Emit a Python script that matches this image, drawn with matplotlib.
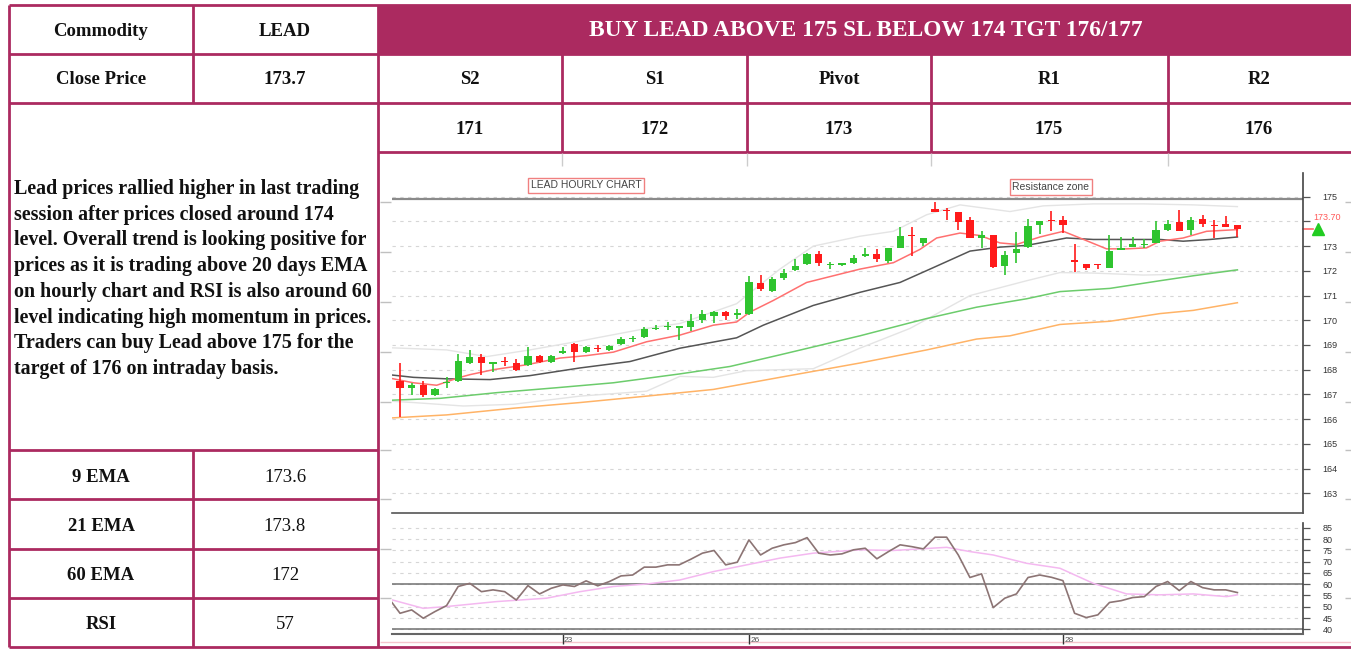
import matplotlib.pyplot as plt

W, H = 1351, 651

# ---------------- data ----------------
header = "BUY LEAD ABOVE 175 SL BELOW 174 TGT 176/177"
levels_names = ["S2", "S1", "Pivot", "R1", "R2"]
levels_values = ["171", "172", "173", "175", "176"]
close_price = 173.7
indicator_names = ["9 EMA", "21 EMA", "60 EMA", "RSI"]
indicator_values = ["173.6", "173.8", "172", "57"]
comment_lines = [
    "Lead prices rallied higher in last trading",
    "session after prices closed around 174",
    "level. Overall trend is looking positive for",
    "prices as it is trading above 20 days EMA",
    "on hourly chart and RSI is also around 60",
    "level indicating high momentum in prices.",
    "Traders can buy Lead above 175 for the",
    "target of 176 on intraday basis.",
]

opens = [167.53, 167.27, 167.37, 166.97, 167.46, 167.53, 168.27, 168.51, 168.25, 168.33,
         168.29, 168.17, 168.57, 168.31, 168.69, 169.03, 168.71, 168.85, 168.80, 169.03,
         169.25, 169.33, 169.65, 169.72, 169.70, 169.73, 170.00, 170.17, 170.33, 170.23,
         170.27, 171.51, 171.20, 171.73, 172.04, 172.27, 172.69, 172.22, 172.25, 172.33,
         172.60, 172.69, 172.40, 172.93, 173.44, 173.11, 174.49, 174.45, 174.37, 174.07,
         173.33, 173.47, 172.20, 172.71, 172.97, 173.87, 174.03, 174.07, 172.39, 172.27,
         172.24, 172.13, 172.84, 172.96, 173.05, 173.13, 173.67, 173.96, 173.67, 174.11,
         173.81, 173.91, 173.87]
highs = [168.29, 167.47, 167.53, 167.24, 167.69, 168.63, 168.80, 168.63, 168.33, 168.53,
         168.44, 168.93, 168.60, 168.60, 168.93, 169.07, 168.97, 169.00, 169.00, 169.33,
         169.37, 169.71, 169.80, 169.93, 169.77, 170.24, 170.40, 170.37, 170.37, 170.47,
         171.80, 171.83, 171.77, 172.09, 172.49, 172.73, 172.80, 172.36, 172.33, 172.63,
         172.91, 172.89, 172.93, 173.77, 173.77, 173.33, 174.80, 174.53, 174.37, 174.16,
         173.63, 173.47, 172.80, 173.56, 174.09, 174.03, 174.43, 174.20, 173.07, 172.27,
         172.29, 173.47, 173.37, 173.37, 173.29, 174.00, 174.04, 174.47, 174.16, 174.27,
         174.04, 174.20, 173.87]
lows = [166.07, 166.97, 166.89, 166.93, 167.27, 167.49, 168.23, 167.80, 167.90, 168.13,
        167.96, 168.13, 168.27, 168.27, 168.63, 168.33, 168.67, 168.71, 168.77, 169.00,
        169.11, 169.29, 169.60, 169.60, 169.20, 169.56, 169.87, 169.87, 170.00, 170.04,
        170.23, 171.20, 171.13, 171.63, 172.00, 172.23, 172.20, 172.09, 172.20, 172.27,
        172.57, 172.37, 172.33, 172.91, 172.60, 173.00, 174.40, 174.07, 173.67, 173.33,
        172.93, 172.13, 171.83, 172.33, 172.93, 173.51, 173.60, 173.53, 171.96, 172.04,
        172.09, 172.13, 172.84, 172.96, 172.93, 173.13, 173.63, 173.63, 173.47, 173.76,
        173.33, 173.77, 173.37]
closes = [167.27, 167.37, 166.97, 167.20, 167.50, 168.36, 168.53, 168.27, 168.28, 168.31,
          168.00, 168.57, 168.33, 168.57, 168.77, 168.71, 168.93, 168.82, 168.97, 169.24,
          169.28, 169.63, 169.68, 169.75, 169.72, 169.96, 170.27, 170.33, 170.16, 170.27,
          171.53, 171.27, 171.69, 171.93, 172.20, 172.69, 172.33, 172.25, 172.28, 172.53,
          172.69, 172.47, 172.93, 173.43, 173.40, 173.33, 174.40, 174.43, 173.96, 173.33,
          173.47, 172.17, 172.63, 172.89, 173.80, 174.03, 174.00, 173.87, 172.37, 172.13,
          172.22, 172.80, 172.93, 173.07, 173.07, 173.64, 173.91, 173.63, 174.07, 173.91,
          173.80, 173.77, 173.71]

ema9_x = [-1, 1.15, 3.15, 5.01, 6.02, 8.02, 10.89, 13.75, 16.05, 18.34, 21.2, 24.07,
          26.93, 28.94, 30.08, 32.09, 34.96, 39.54, 42.42, 44.71, 46.14, 48.15, 49.87,
          51.58, 53.02, 55.02, 57.03, 58.46, 60.75, 62.47, 64.19, 65.34, 67.34, 69.35, 72.0]
ema9_y = [167.67, 167.47, 167.37, 167.67, 167.8, 168.0, 168.2, 168.47, 168.57, 168.71,
          169.13, 169.4, 169.8, 169.93, 170.33, 170.8, 171.53, 172.07, 172.33, 172.87,
          173.33, 173.53, 173.43, 173.13, 173.07, 173.37, 173.6, 173.33, 172.89, 172.89,
          172.93, 173.2, 173.33, 173.6, 173.67]
ema21_x = [-1, 1.15, 4.01, 7.74, 11.17, 15.47, 19.77, 24.07, 28.94, 31.23, 35.53, 39.54,
           42.99, 45.85, 49.01, 51.58, 53.88, 57.31, 59.61, 62.47, 65.34, 67.34, 69.64, 72.0]
ema21_y = [167.8, 167.69, 167.63, 167.6, 167.76, 168.07, 168.33, 168.87, 169.29, 169.8,
           170.6, 171.13, 171.53, 172.13, 172.8, 172.96, 173.03, 173.33, 173.27, 173.27,
           173.27, 173.2, 173.27, 173.37]
ema60_x = [-1, 3.44, 8.31, 13.47, 18.34, 24.07, 28.37, 32.66, 39.54, 45.28, 49.58, 53.88,
           56.74, 61.04, 65.34, 68.2, 72.0]
ema60_y = [166.76, 166.84, 167.07, 167.27, 167.47, 167.83, 168.13, 168.6, 169.37, 170.07,
           170.53, 170.87, 171.16, 171.29, 171.6, 171.8, 172.04]
ema100_x = [-1, 4.01, 9.74, 15.47, 21.2, 26.93, 32.66, 39.54, 45.28, 49.58, 52.44, 56.74,
            61.04, 65.34, 68.2, 72.0]
ema100_y = [166.04, 166.17, 166.44, 166.67, 166.93, 167.2, 167.69, 168.27, 168.8, 169.24,
            169.37, 169.83, 169.96, 170.27, 170.4, 170.71]
bb_up_x = [-1, 4.01, 7.45, 11.17, 15.47, 21.2, 24.07, 28.94, 29.8, 32.66, 35.53, 39.54,
           42.42, 45.28, 48.15, 52.44, 55.31, 59.61, 63.91, 68.2, 72.0]
bb_up_y = [168.89, 168.8, 168.53, 168.8, 169.16, 169.67, 169.87, 170.67, 171.0, 172.07,
           173.0, 173.4, 173.6, 174.27, 174.67, 174.4, 174.63, 174.71, 174.71, 174.67, 174.6]
bb_dn_x = [-1, 1.15, 5.44, 9.74, 15.47, 21.2, 24.07, 26.93, 29.8, 35.53, 39.54, 43.85,
           49.01, 53.88, 56.74, 59.61, 63.91, 68.2, 72.0]
bb_dn_y = [166.73, 166.67, 166.53, 166.6, 166.93, 167.13, 167.73, 167.69, 167.96, 168.04,
           168.87, 169.67, 171.0, 171.6, 171.93, 171.91, 171.83, 171.87, 172.04]

rsi = [54.0, 47.1, 48.6, 44.9, 47.85, 50.5, 59.0, 60.4, 56.7, 57.5, 56.7, 53.0, 59.4, 55.7,
       58.2, 59.7, 59.0, 61.5, 59.3, 61.2, 63.7, 64.1, 67.6, 67.6, 68.6, 68.6, 71.1, 73.8,
       75.0, 68.6, 69.8, 79.7, 73.0, 76.0, 77.5, 78.5, 80.7, 73.8, 73.0, 73.5, 75.3, 76.0,
       71.3, 74.5, 77.5, 76.7, 75.7, 80.9, 80.9, 73.0, 63.0, 64.6, 49.6, 53.8, 55.7, 63.0,
       64.1, 63.1, 61.6, 47.1, 45.2, 46.4, 51.9, 52.7, 54.1, 54.5, 59.0, 61.2, 57.2, 61.2,
       58.5, 57.5, 57.5, 56.3]
rsi_sig_x = [-1, 2.0, 4.01, 8.31, 12.6, 15.47, 18.34, 21.2, 24.07, 26.93, 29.8, 32.66,
             35.53, 39.54, 42.42, 47.0, 49.01, 51.0, 53.88, 56.74, 59.61, 62.47, 65.34,
             68.2, 71.07, 72.0]
rsi_sig_y = [53.5, 49.3, 50.1, 52.3, 53.8, 56.7, 59.0, 60.1, 61.9, 65.6, 68.6, 71.6, 73.8,
             75.3, 75.0, 76.4, 74.5, 73.0, 69.3, 67.1, 60.4, 55.7, 55.3, 55.7, 54.5, 55.3]

date_pos = [14, 30, 57]
date_labels = ["23", "26", "28"]

# ---------------- style ----------------
MAG = "#AB2A60"
SERIF = "Liberation Serif"
SANS = "Liberation Sans"
UP, DN = "#2fc42f", "#ff1a1a"


def rect(x0, y0, x1, y1):
    return [x0 / W, (H - y1) / H, (x1 - x0) / W, (y1 - y0) / H]


fig = plt.figure(figsize=(W / 100, H / 100), dpi=100)
fig.patch.set_facecolor("white")

# ============ table (pixel coordinates) ============
tab = fig.add_axes([0, 0, 1, 1])
tab.set_xlim(0, W)
tab.set_ylim(H, 0)
tab.axis("off")

tab.fill_between([378, W], 5, 54, color=MAG, lw=0)
lw = 2
tab.hlines([5, 647], 9, W, color=MAG, lw=lw)
tab.hlines([54, 103], 9, W, color=MAG, lw=lw)
tab.hlines(152, 378, W, color=MAG, lw=lw)
tab.hlines([450, 499, 549, 598], 9, 378, color=MAG, lw=lw)
tab.vlines([9, 378], 5, 647, color=MAG, lw=lw)
tab.vlines(193, 5, 103, color=MAG, lw=lw)
tab.vlines(193, 450, 647, color=MAG, lw=lw)
tab.vlines([562, 747, 931, 1168], 54, 152, color=MAG, lw=lw)

# faint screenshot leftovers
tab.vlines([562, 747, 931, 1168], 153, 166, color="#cccccc", lw=1)
marks = [202, 252, 302, 352, 402, 450, 499, 549, 598]
tab.hlines(marks, 380, 391, color="#c0c0c0", lw=1)
tab.hlines(marks, 1345, W, color="#c0c0c0", lw=1)
tab.hlines(642, 380, W, color="#f6c4cc", lw=1)

cell = dict(family=SERIF, fontsize=13.5, ha="center", va="center", color="#111111")
tab.text(101, 31, "Commodity", weight="bold", **cell)
tab.text(285, 31, "LEAD", weight="bold", **cell)
tab.text(101, 80, "Close Price", weight="bold", **cell)
tab.text(285, 80, f"{close_price}", weight="bold", **cell)
tab.text(866, 31, header, family=SERIF, fontsize=16.8, weight="bold",
         ha="center", va="center", color="white")

col_centers = [470, 655, 839, 1049, 1259]
for xc, name, val in zip(col_centers, levels_names, levels_values):
    tab.text(xc, 80, name, weight="bold", **cell)
    tab.text(xc, 130, val, weight="bold", **cell)

for i, (name, val) in enumerate(zip(indicator_names, indicator_values)):
    yc = 477 + i * 49.3
    tab.text(101, yc, name, weight="bold", **cell)
    tab.text(285, yc, val, **cell)

for i, line in enumerate(comment_lines):
    tab.text(14, 189 + i * 25.7, line, family=SERIF, fontsize=14.4, weight="bold",
             ha="left", va="center", color="#111111")

tab.text(586, 185.5, "LEAD HOURLY CHART", family=SANS, fontsize=7.5, color="#444444",
         ha="center", va="center",
         bbox=dict(boxstyle="square,pad=0.25", fc="white", ec="#f08080", lw=1))
tab.text(1051, 187, "Resistance zone", family=SANS, fontsize=7.5, color="#444444",
         ha="center", va="center",
         bbox=dict(boxstyle="square,pad=0.25", fc="white", ec="#f08080", lw=1))

# ============ price panel ============
x0, x1 = -0.69, 77.64
ax = fig.add_axes(rect(392, 173, 1303, 513))
ax.set_facecolor("none")
ax.set_xlim(x0, x1)
ax.set_ylim(162.2, 175.96)

ax.set_yticks(range(163, 176))
ax.grid(axis="y", color="#d6d6d6", linestyle=(0, (3, 4)), lw=0.8)
ax.axhline(174.9, color="#8a8a8a", lw=1.6, zorder=2)

ax.plot(bb_up_x, bb_up_y, color="#e4e4e4", lw=1, zorder=2)
ax.plot(bb_dn_x, bb_dn_y, color="#e4e4e4", lw=1, zorder=2)
ax.plot(ema100_x, ema100_y, color="#ffb366", lw=1.1, zorder=2)
ax.plot(ema60_x, ema60_y, color="#6ccc6c", lw=1.1, zorder=2)
ax.plot(ema21_x, ema21_y, color="#555555", lw=1.1, zorder=2)
ax.plot(ema9_x, ema9_y, color="#ff7070", lw=1.1, zorder=2)

idx = list(range(len(closes)))
colors = [UP if c >= o else DN for o, c in zip(opens, closes)]
bottoms = [min(o, c) for o, c in zip(opens, closes)]
heights = [max(abs(c - o), 0.05) for o, c in zip(opens, closes)]
ax.vlines(idx, lows, highs, colors=colors, lw=1.2, zorder=3)
ax.bar(idx, heights, bottom=bottoms, width=0.62, color=colors, lw=0, zorder=4)

for s in ["top", "left"]:
    ax.spines[s].set_visible(False)
ax.spines["right"].set_color("#444444")
ax.spines["right"].set_linewidth(1.2)
ax.spines["bottom"].set_color("#555555")
ax.spines["bottom"].set_linewidth(1.2)
ax.set_xticks([])
ax.yaxis.tick_right()
ax.tick_params(axis="y", length=5, width=0.9, color="#555555", pad=9,
               labelsize=6.5, labelcolor="#333333")
ax.set_yticklabels(["" if v == 174 else str(v) for v in range(163, 176)],
                   family=SANS)

# last price marker
ty = ax.get_yaxis_transform()
ax.plot([1.0, 1.011], [close_price, close_price], color="#ff6a6a", lw=1.2,
        transform=ty, clip_on=False)
ax.plot([1.0165], [close_price], marker="^", ms=8, color="#22cc22", mec="#22cc22",
        transform=ty, clip_on=False)
ax.text(1.026, 174.14, f"{close_price:.2f}", transform=ty, color="#ff5a5a",
        family=SANS, fontsize=6.5, ha="center", va="center")

# ============ RSI panel ============
ar = fig.add_axes(rect(392, 523, 1303, 634))
ar.set_facecolor("none")
ar.set_xlim(x0, x1)
ar.set_ylim(37.9, 87.2)
rsi_ticks = list(range(40, 90, 5))
ar.set_yticks(rsi_ticks)
ar.grid(axis="y", color="#d6d6d6", linestyle=(0, (3, 4)), lw=0.8)
ar.axhline(60, color="#707070", lw=1.1)
ar.axhline(40, color="#707070", lw=1.1)

ar.plot(rsi_sig_x, rsi_sig_y, color="#f4b8f0", lw=1.1, zorder=2)
ar.plot(range(-1, len(rsi) - 1), rsi, color="#8c7474", lw=1.2, zorder=3)

for s in ["top", "left"]:
    ar.spines[s].set_visible(False)
ar.spines["right"].set_color("#444444")
ar.spines["right"].set_linewidth(1.2)
ar.spines["bottom"].set_color("#666666")
ar.spines["bottom"].set_linewidth(1.5)
ar.yaxis.tick_right()
ar.tick_params(axis="y", length=5, width=0.9, color="#555555", pad=9,
               labelsize=6.5, labelcolor="#333333")
ar.set_yticklabels([str(v) for v in rsi_ticks], family=SANS)
ar.set_xticks(date_pos)
ar.set_xticklabels([])
ar.tick_params(axis="x", length=7, width=1, color="#333333")
tx = ar.get_xaxis_transform()
for d, lab in zip(date_pos, date_labels):
    ar.text(d + 0.1, -0.03, lab, transform=tx, family=SANS, fontsize=6,
            color="#555555", ha="left", va="top")

fig.savefig("out.png", dpi=100, facecolor="white")
